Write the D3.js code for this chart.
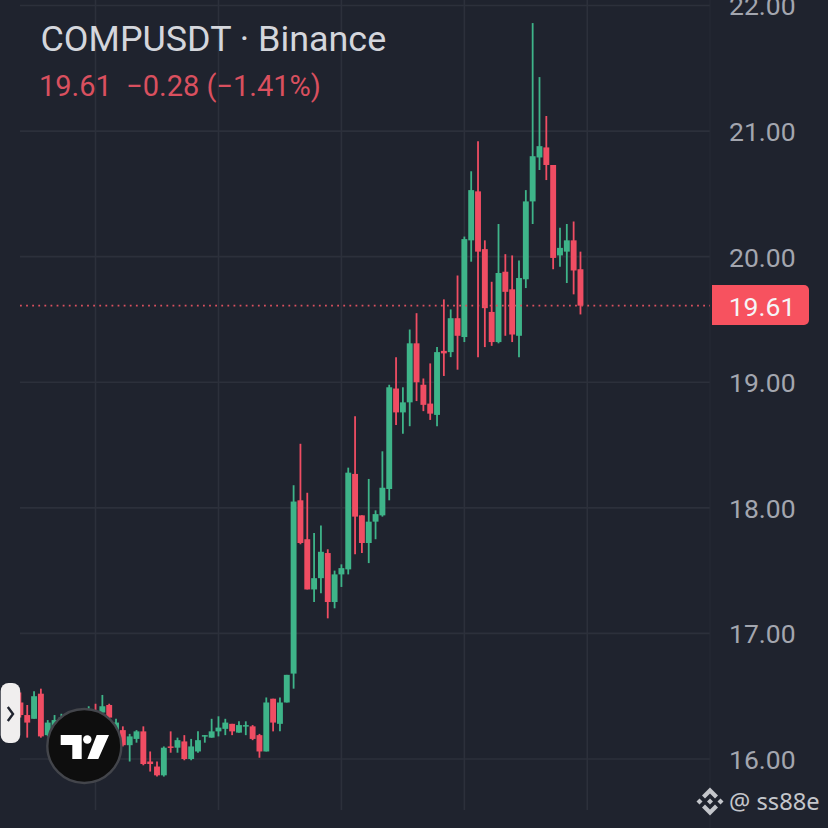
<!DOCTYPE html>
<html lang="en">
<head>
<meta charset="UTF-8">
<title>COMPUSDT</title>
<script src="https://d3js.org/d3.v7.min.js"></script>
<style>
    html, body { margin: 0; padding: 0; background: #1f232e; overflow: hidden; }
    svg { display: block; font-family: Roboto, sans-serif; }
    .price-axis .domain, .price-axis line { display: none; }
    .price-axis text { fill: #a3a6af; font-size: 26.5px; font-family: Roboto, sans-serif; }
</style>
</head>
<body>
<svg width="828" height="828"></svg>
<script>
const open = [
    16.45,16.35,16.32,16.52,16.19,16.22,16.31,16.33,16.25,16.30,
    16.28,16.38,16.37,16.43,16.19,16.23,16.11,16.16,16.22,15.98,
    15.94,15.87,16.10,16.09,16.14,16.00,16.06,16.18,16.17,16.22,
    16.24,16.28,16.21,16.26,16.26,16.19,16.06,16.48,16.28,16.45,
    16.68,18.06,17.75,17.35,17.44,17.64,17.25,17.47,17.51,18.27,
    17.94,17.72,17.89,17.94,18.15,18.95,18.76,18.84,19.31,18.98,
    18.83,18.74,19.25,19.24,19.51,19.36,20.13,20.52,20.06,19.56,
    19.32,19.88,19.74,19.37,19.82,20.44,20.79,20.87,20.73,20.01,
    20.04,20.13,19.90
];
const high = [
    16.53,16.43,16.54,16.56,16.31,16.35,16.36,16.37,16.35,16.36,
    16.42,16.44,16.51,16.44,16.32,16.26,16.20,16.23,16.26,16.06,
    15.98,16.10,16.22,16.17,16.19,16.16,16.22,16.19,16.32,16.34,
    16.32,16.28,16.30,16.30,16.27,16.20,16.49,16.48,16.49,16.67,
    18.18,18.51,18.12,17.80,17.86,17.67,17.50,17.55,18.32,18.73,
    17.94,18.23,17.98,18.45,18.98,19.20,18.96,19.42,19.55,19.03,
    19.15,19.28,19.66,19.58,19.85,20.16,20.68,20.92,20.13,19.80,
    20.26,20.02,20.01,19.97,20.53,21.86,21.43,21.12,20.73,20.23,
    20.26,20.28,20.04
];
const low = [
    16.33,16.17,16.32,16.17,16.18,16.19,16.26,16.21,16.22,16.24,
    16.26,16.32,16.34,16.28,16.14,16.10,15.98,16.13,15.95,15.90,
    15.86,15.86,16.05,16.05,15.99,15.99,16.05,16.13,16.17,16.18,
    16.19,16.19,16.21,16.19,16.15,16.01,16.06,16.22,16.22,16.45,
    16.56,17.71,17.35,17.25,17.32,17.12,17.20,17.37,17.47,17.63,
    17.64,17.56,17.75,17.93,18.06,18.66,18.59,18.65,18.85,18.77,
    18.70,18.65,19.05,19.20,19.10,19.32,19.96,19.20,19.28,19.29,
    19.31,19.37,19.32,19.20,19.75,20.26,20.69,20.61,19.90,19.92,
    19.79,19.70,19.54
];
const close = [
    16.35,16.29,16.50,16.18,16.29,16.31,16.33,16.25,16.33,16.28,
    16.38,16.36,16.42,16.33,16.29,16.11,16.18,16.22,15.96,15.96,
    15.87,16.09,16.09,16.15,16.00,16.10,16.15,16.19,16.22,16.25,
    16.29,16.22,16.27,16.27,16.16,16.06,16.45,16.29,16.45,16.67,
    18.05,17.72,17.35,17.44,17.65,17.25,17.47,17.52,18.28,17.93,
    17.72,17.89,17.95,18.16,18.96,18.76,18.84,19.31,19.00,18.82,
    18.75,19.24,19.23,19.51,19.37,20.14,20.53,20.04,19.59,19.32,
    19.87,19.72,19.38,19.83,20.44,20.80,20.88,20.73,19.99,20.07,
    20.13,19.89,19.61
];
const priceTicks = [16, 17, 18, 19, 20, 21, 22];
const timeGridIdx = [11, 29, 47, 65, 83];
const lastPrice = 19.61;
const titleText = "COMPUSDT · Binance";
const quoteText = "19.61  −0.28 (−1.41%)";

const up = "#3eb489", down = "#f04d63", grid = "#2c303b";

const svg = d3.select("svg");
const x = d3.scaleLinear().domain([0, 83]).range([20.4, 587.3]);
const y = d3.scaleLinear().domain([16, 22]).range([759, 5.5]);
const paneLeft = 20, paneRight = 710, paneBottom = 810;

// grid
svg.append("g").selectAll("line").data(priceTicks).enter().append("line")
    .attr("x1", paneLeft).attr("x2", paneRight)
    .attr("y1", d => y(d)).attr("y2", d => y(d))
    .attr("stroke", grid).attr("stroke-width", 1.6);
svg.append("g").selectAll("line").data(timeGridIdx).enter().append("line")
    .attr("x1", d => x(d)).attr("x2", d => x(d))
    .attr("y1", 0).attr("y2", paneBottom)
    .attr("stroke", grid).attr("stroke-width", 1.6);
svg.append("line").attr("x1", paneRight).attr("x2", paneRight)
    .attr("y1", 0).attr("y2", 828).attr("stroke", "#262a35").attr("stroke-width", 1);

// candles
const candles = svg.append("g").selectAll("g").data(open).enter().append("g")
    .attr("fill", (d, i) => close[i] >= open[i] ? up : down)
    .attr("stroke", (d, i) => close[i] >= open[i] ? up : down);
candles.append("line")
    .attr("x1", (d, i) => x(i)).attr("x2", (d, i) => x(i))
    .attr("y1", (d, i) => y(high[i])).attr("y2", (d, i) => y(low[i]))
    .attr("stroke-width", 1.8);
candles.append("rect")
    .attr("stroke", "none")
    .attr("x", (d, i) => x(i) - 2.95)
    .attr("width", 5.9)
    .attr("y", (d, i) => y(Math.max(open[i], close[i])))
    .attr("height", (d, i) => Math.max(1.5, Math.abs(y(open[i]) - y(close[i]))));

// last price line
svg.append("line")
    .attr("x1", paneLeft).attr("x2", paneRight)
    .attr("y1", y(lastPrice)).attr("y2", y(lastPrice))
    .attr("stroke", "#d9505f").attr("stroke-width", 1.6)
    .attr("stroke-dasharray", "1.8 4.3");

// price axis
svg.append("g").attr("class", "price-axis")
    .attr("transform", `translate(${paneRight},1)`)
    .call(d3.axisRight(y).tickValues(priceTicks).tickFormat(d3.format(".2f")).tickSize(0).tickPadding(19));

// last price badge
svg.append("path")
    .attr("d", "M712,285H804a5,5 0 0 1 5,5V320a5,5 0 0 1 -5,5H712Z")
    .attr("fill", "#f7525f");
svg.append("text").attr("x", 762).attr("y", y(lastPrice) + 10)
    .attr("text-anchor", "middle").attr("fill", "#f5f5f7")
    .style("font-size", "26.5px").text(d3.format(".2f")(lastPrice));

// header
svg.append("text").attr("x", 40.5).attr("y", 51)
    .attr("fill", "#d4d6dc").style("font-size", "35.9px").text(titleText);
svg.append("text").attr("x", 39).attr("y", 96)
    .attr("fill", "#d9505f").style("font-size", "29px")
    .style("white-space", "pre").text(quoteText);

// side button
svg.append("rect").attr("x", 0.7).attr("y", 683).attr("width", 19.5).attr("height", 60).attr("rx", 8)
    .attr("fill", "#f0eeee");
svg.append("path").attr("d", "M7.8,707L13,714L7.8,721")
    .attr("fill", "none").attr("stroke", "#1f232e").attr("stroke-width", 2.4);

// tv logo
svg.append("circle").attr("cx", 84.3).attr("cy", 746).attr("r", 37)
    .attr("fill", "#0e0e0e").attr("stroke", "#43454b").attr("stroke-width", 2.4);
svg.append("path")
    .attr("d", "M60.7,735H81.7V759H72.3V745H60.7Z M96.7,735H109L98.3,759H87.3Z")
    .attr("fill", "#fff");
svg.append("circle").attr("cx", 87.3).attr("cy", 739.5).attr("r", 4.2).attr("fill", "#fff");

// watermark
const wm = svg.append("g").attr("transform", "translate(710,801.5)").attr("fill", "#c4c6cb");
wm.append("path").attr("d", "M0,-14L8,-6L5,-3L0,-8L-5,-3L-8,-6Z");
wm.append("path").attr("d", "M0,14L8,6L5,3L0,8L-5,3L-8,6Z");
wm.append("path").attr("d", "M0,-3L3,0L0,3L-3,0Z");
wm.append("path").attr("d", "M-10.5,-3L-7.5,0L-10.5,3L-13.5,0Z");
wm.append("path").attr("d", "M10.5,-3L13.5,0L10.5,3L7.5,0Z");
svg.append("text").attr("x", 729).attr("y", 810)
    .attr("fill", "#c4c6cb").style("font-size", "23.7px")
    .style("font-family", "'Noto Sans', sans-serif").style("white-space", "pre").text("@ ss88e");
</script>
</body>
</html>
